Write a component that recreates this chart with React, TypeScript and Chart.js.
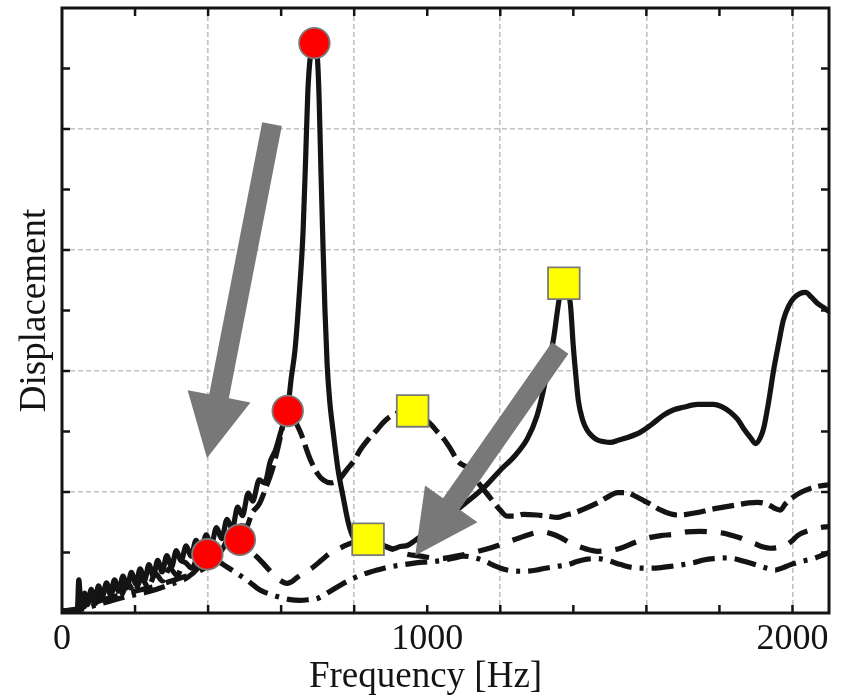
import React, { useEffect, useRef } from 'react';
import { Chart, registerables } from 'chart.js';

Chart.register(...registerables);

const FONT = '"Liberation Serif", "Times New Roman", serif';
const INK = '#141414';

const xTitle = 'Frequency [Hz]';
const yTitle = 'Displacement';
const xLabelValues = [0, 1000, 2000];
const xGridValues = [400, 800, 1200, 1600, 2000];
const yGridValues = [2, 4, 6, 8];

// Solid line
const solidHz = [0, 30, 42, 46, 52, 62, 70, 80, 90, 100, 110, 122, 132, 144, 155, 167, 178, 190, 202, 214, 226, 238, 250, 262, 274, 287, 300, 313, 326, 340, 353, 367, 380, 395, 408, 423, 437, 452, 466, 481, 494, 510, 522, 540, 555, 570, 585, 597, 607, 618, 628, 638, 650, 660, 667, 673, 680, 690, 699, 704, 709, 714, 720, 726, 733, 742, 756, 770, 784, 797, 815, 838, 860, 885, 905, 926, 947, 967, 990, 1008, 1035, 1063, 1095, 1126, 1160, 1200, 1240, 1274, 1300, 1318, 1335, 1345, 1359, 1366, 1373, 1381, 1392, 1400, 1408, 1414, 1425, 1438, 1452, 1466, 1485, 1501, 1525, 1548, 1584, 1615, 1647, 1675, 1701, 1740, 1784, 1810, 1830, 1850, 1866, 1885, 1899, 1912, 1921, 1935, 1948, 1962, 1975, 1990, 2003, 2020, 2036, 2052, 2068, 2085, 2100];
const solidAmp = [0.03, 0.03, 0.05, 0.55, 0.12, 0.33, 0.14, 0.39, 0.20, 0.45, 0.26, 0.50, 0.31, 0.55, 0.36, 0.61, 0.42, 0.67, 0.48, 0.73, 0.54, 0.80, 0.61, 0.87, 0.68, 0.95, 0.76, 1.03, 0.86, 1.11, 0.94, 1.20, 1.02, 1.29, 1.11, 1.41, 1.23, 1.55, 1.39, 1.75, 1.61, 1.98, 1.85, 2.2, 2.15, 2.5, 2.7, 2.95, 3.15, 3.38, 3.9, 4.35, 5.3, 6.3, 7.5, 8.6, 9.2, 9.4, 9.2, 8.5, 7.3, 6.2, 5.0, 4.1, 3.5, 3.02, 2.36, 1.91, 1.49, 1.26, 1.2, 1.17, 1.12, 1.1, 1.06, 1.1, 1.12, 1.2, 1.3, 1.4, 1.5, 1.62, 1.77, 1.92, 2.1, 2.36, 2.6, 2.88, 3.25, 3.68, 4.2, 4.5, 5.1, 5.35, 5.42, 5.35, 5.1, 4.4, 3.85, 3.5, 3.2, 3.02, 2.92, 2.86, 2.83, 2.82, 2.86, 2.9, 2.99, 3.12, 3.27, 3.36, 3.4, 3.45, 3.45, 3.4, 3.32, 3.2, 3.05, 2.9, 2.8, 2.9, 3.05, 3.5, 4.0, 4.45, 4.84, 5.08, 5.2, 5.28, 5.3, 5.22, 5.12, 5.05, 4.98];

// Long-dash line
const longDashHz = [0, 40, 50, 60, 75, 90, 110, 125, 145, 160, 180, 198, 218, 236, 256, 275, 295, 315, 335, 355, 375, 395, 415, 435, 455, 470, 490, 505, 520, 540, 560, 575, 590, 603, 616, 630, 652, 679, 700, 715, 737, 760, 781, 800, 816, 840, 863, 880, 899, 925, 956, 990, 1010, 1027, 1045, 1063, 1085, 1110, 1140, 1173, 1200, 1219, 1240, 1263, 1300, 1330, 1356, 1380, 1400, 1430, 1466, 1495, 1521, 1545, 1570, 1595, 1611, 1640, 1665, 1685, 1710, 1740, 1775, 1811, 1850, 1880, 1904, 1925, 1940, 1955, 1967, 1980, 2003, 2025, 2049, 2075, 2100];
const longDashAmp = [0.03, 0.04, 0.27, 0.10, 0.30, 0.15, 0.35, 0.20, 0.42, 0.28, 0.49, 0.35, 0.57, 0.43, 0.65, 0.53, 0.74, 0.62, 0.84, 0.74, 0.95, 0.88, 1.07, 1.03, 1.22, 1.2, 1.44, 1.43, 1.65, 1.8, 2.1, 2.35, 2.7, 3.05, 3.33, 3.25, 3.0, 2.55, 2.3, 2.2, 2.15, 2.22, 2.38, 2.52, 2.69, 2.88, 3.03, 3.15, 3.25, 3.32, 3.34, 3.22, 3.12, 3.0, 2.88, 2.72, 2.5, 2.4, 2.15, 1.9, 1.7, 1.6, 1.6, 1.63, 1.62, 1.6, 1.58, 1.62, 1.65, 1.72, 1.82, 1.92, 1.99, 1.99, 1.93, 1.85, 1.8, 1.7, 1.64, 1.62, 1.63, 1.66, 1.71, 1.75, 1.79, 1.82, 1.83, 1.81, 1.77, 1.72, 1.7, 1.8, 1.92, 2.0, 2.06, 2.1, 2.12];

// Medium-dash line
const dashHz = [0, 50, 104, 170, 241, 310, 378, 420, 447, 470, 485, 500, 515, 535, 551, 575, 597, 616, 630, 644, 665, 688, 710, 734, 760, 781, 810, 838, 865, 899, 940, 981, 1036, 1080, 1126, 1175, 1219, 1265, 1300, 1318, 1340, 1364, 1390, 1419, 1445, 1466, 1495, 1529, 1570, 1611, 1640, 1674, 1710, 1748, 1780, 1811, 1835, 1858, 1880, 1899, 1920, 1940, 1960, 1981, 2000, 2014, 2049, 2075, 2100];
const dashAmp = [0.03, 0.08, 0.2, 0.32, 0.42, 0.55, 0.7, 0.85, 0.97, 1.1, 1.2, 1.15, 1.04, 0.92, 0.82, 0.66, 0.54, 0.49, 0.52, 0.59, 0.67, 0.76, 0.87, 0.99, 1.07, 1.13, 1.2, 1.24, 1.16, 1.07, 0.98, 0.94, 0.9, 0.94, 1.0, 1.08, 1.17, 1.27, 1.33, 1.34, 1.31, 1.25, 1.16, 1.09, 1.04, 1.02, 1.03, 1.07, 1.17, 1.25, 1.28, 1.3, 1.34, 1.35, 1.34, 1.32, 1.28, 1.24, 1.18, 1.14, 1.09, 1.07, 1.08, 1.12, 1.2, 1.28, 1.37, 1.41, 1.43];

// Dash-dot line
const dashDotHz = [0, 50, 104, 170, 241, 300, 342, 378, 397, 420, 452, 480, 507, 542, 570, 597, 625, 652, 675, 699, 715, 740, 762, 790, 816, 840, 863, 895, 926, 960, 989, 1044, 1075, 1099, 1125, 1153, 1185, 1219, 1268, 1300, 1323, 1355, 1386, 1410, 1438, 1465, 1493, 1530, 1564, 1611, 1640, 1666, 1700, 1729, 1760, 1784, 1810, 1838, 1870, 1904, 1930, 1953, 1975, 1995, 2030, 2058, 2080, 2100];
const dashDotAmp = [0.03, 0.06, 0.15, 0.26, 0.36, 0.48, 0.58, 0.78, 0.95, 0.88, 0.76, 0.65, 0.54, 0.38, 0.31, 0.26, 0.22, 0.21, 0.22, 0.24, 0.29, 0.38, 0.46, 0.55, 0.62, 0.67, 0.71, 0.76, 0.79, 0.82, 0.84, 0.87, 0.91, 0.94, 0.92, 0.87, 0.78, 0.71, 0.69, 0.71, 0.74, 0.77, 0.8, 0.85, 0.89, 0.9, 0.87, 0.8, 0.75, 0.74, 0.75, 0.77, 0.8, 0.83, 0.88, 0.9, 0.91, 0.9, 0.85, 0.79, 0.74, 0.71, 0.75, 0.8, 0.86, 0.9, 0.95, 1.0];

// Peak markers
const circleHz = [398, 487, 618, 691];
const circleAmp = [0.97, 1.21, 3.34, 9.42];
const squareHz = [838, 960, 1374];
const squareAmp = [1.22, 3.34, 5.45];

// Arrows (tail -> tip)
const arrowTailHz = [575, 1364];
const arrowTailAmp = [8.08, 4.38];
const arrowTipHz = [397, 967];
const arrowTipAmp = [2.56, 0.95];

function pts(xs: number[], ys: number[]) {
  return xs.map((x, i) => ({ x, y: ys[i] }));
}

const decorPlugin = {
  id: 'decor',
  afterDatasetsDraw(chart: any) {
    const { ctx, scales } = chart;
    const sx = scales.x;
    const sy = scales.y;
    ctx.save();
    ctx.fillStyle = '#787878';
    const shaft = 10;
    const headHalf = 32;
    const headLen = 63;
    for (let i = 0; i < arrowTailHz.length; i++) {
      const x0 = sx.getPixelForValue(arrowTailHz[i]);
      const y0 = sy.getPixelForValue(arrowTailAmp[i]);
      const x1 = sx.getPixelForValue(arrowTipHz[i]);
      const y1 = sy.getPixelForValue(arrowTipAmp[i]);
      const dx = x1 - x0;
      const dy = y1 - y0;
      const len = Math.hypot(dx, dy);
      const ux = dx / len;
      const uy = dy / len;
      const px = -uy;
      const py = ux;
      const bx = x1 - ux * headLen;
      const by = y1 - uy * headLen;
      ctx.beginPath();
      ctx.moveTo(x0 + px * shaft, y0 + py * shaft);
      ctx.lineTo(bx + px * shaft, by + py * shaft);
      ctx.lineTo(bx + px * headHalf, by + py * headHalf);
      ctx.lineTo(x1, y1);
      ctx.lineTo(bx - px * headHalf, by - py * headHalf);
      ctx.lineTo(bx - px * shaft, by - py * shaft);
      ctx.lineTo(x0 - px * shaft, y0 - py * shaft);
      ctx.closePath();
      ctx.fill();
    }
    ctx.restore();
  },
  afterDraw(chart: any) {
    const { ctx, chartArea: a, scales } = chart;
    const sx = scales.x;
    const sy = scales.y;
    ctx.save();
    ctx.strokeStyle = INK;
    ctx.lineWidth = 2.5;
    ctx.beginPath();
    sx.ticks.forEach((t: any) => {
      if (t.value > 0 && t.value < sx.max && t.value % 200 === 0) {
        const p = sx.getPixelForValue(t.value);
        ctx.moveTo(p, a.bottom);
        ctx.lineTo(p, a.bottom - 8);
        ctx.moveTo(p, a.top);
        ctx.lineTo(p, a.top + 8);
      }
    });
    sy.ticks.forEach((t: any) => {
      if (t.value > 0 && t.value < sy.max) {
        const p = sy.getPixelForValue(t.value);
        ctx.moveTo(a.left, p);
        ctx.lineTo(a.left + 8, p);
        ctx.moveTo(a.right, p);
        ctx.lineTo(a.right - 8, p);
      }
    });
    ctx.stroke();
    ctx.lineWidth = 3;
    ctx.strokeRect(a.left, a.top, a.right - a.left, a.bottom - a.top);
    ctx.fillStyle = INK;
    ctx.font = `37px ${FONT}`;
    ctx.textAlign = 'center';
    ctx.textBaseline = 'alphabetic';
    ctx.fillText(xTitle, a.left + 0.474 * (a.right - a.left), 687);
    ctx.restore();
  },
};

export default function App() {
  const ref = useRef<HTMLCanvasElement | null>(null);

  useEffect(() => {
    if (!ref.current) return;
    const lineBase = {
      borderColor: INK,
      borderWidth: 5.2,
      pointRadius: 0,
      fill: false,
      cubicInterpolationMode: 'monotone' as const,
      borderCapStyle: 'butt' as const,
      borderJoinStyle: 'round' as const,
      order: 2,
    };
    const chart = new Chart(ref.current, {
      type: 'line',
      data: {
        datasets: [
          {
            label: 'peaks-1',
            data: pts(circleHz, circleAmp),
            showLine: false,
            pointStyle: 'circle',
            pointRadius: 15.3,
            pointBackgroundColor: '#ff0000',
            pointBorderColor: '#7a7a7a',
            pointBorderWidth: 1.8,
            order: 0,
          } as any,
          {
            label: 'peaks-2',
            data: pts(squareHz, squareAmp),
            showLine: false,
            pointStyle: 'rect',
            pointRadius: 22.4,
            pointBackgroundColor: '#ffff00',
            pointBorderColor: '#7a7a7a',
            pointBorderWidth: 1.8,
            order: 0,
          } as any,
          { ...lineBase, label: 'solid', data: pts(solidHz, solidAmp) },
          { ...lineBase, label: 'long dash', data: pts(longDashHz, longDashAmp), borderDash: [22, 7] },
          { ...lineBase, label: 'dash', data: pts(dashHz, dashAmp), borderDash: [22, 14] },
          { ...lineBase, label: 'dash-dot', data: pts(dashDotHz, dashDotAmp), borderDash: [22, 8, 4, 8] },
        ],
      },
      options: {
        responsive: false,
        animation: false,
        events: [],
        layout: { autoPadding: false, padding: { top: 8, right: 15, left: 0, bottom: 0 } },
        plugins: { legend: { display: false }, tooltip: { enabled: false } },
        scales: {
          x: {
            type: 'linear',
            min: 0,
            max: 2100,
            afterFit: (s: any) => {
              s.height = 86;
            },
            border: { display: false, dash: [5, 3] },
            grid: {
              drawTicks: false,
              lineWidth: 1.6,
              color: (c: any) =>
                c.tick && xGridValues.includes(c.tick.value) ? '#c2c2c2' : 'rgba(0,0,0,0)',
            },
            ticks: {
              stepSize: 200,
              includeBounds: false,
              autoSkip: false,
              maxRotation: 0,
              padding: 5,
              color: INK,
              font: { family: FONT, size: 36 },
              callback: (v: any) => (xLabelValues.includes(Number(v)) ? String(v) : ''),
            },
          },
          y: {
            type: 'linear',
            min: 0,
            max: 10,
            afterFit: (s: any) => {
              s.width = 62;
            },
            border: { display: false, dash: [5, 3] },
            grid: {
              drawTicks: false,
              lineWidth: 1.6,
              color: (c: any) =>
                c.tick && yGridValues.includes(c.tick.value) ? '#c2c2c2' : 'rgba(0,0,0,0)',
            },
            ticks: { stepSize: 1, display: false },
            title: {
              display: true,
              text: yTitle,
              color: INK,
              font: { family: FONT, size: 37 },
              padding: { top: 13, bottom: 0 },
            },
          },
        },
      },
      plugins: [decorPlugin],
    });
    return () => chart.destroy();
  }, []);

  return (
    <div style={{ position: 'absolute', left: 0, top: 0, width: 844, height: 699, background: '#fff' }}>
      <canvas ref={ref} width={844} height={699} style={{ display: 'block' }} />
    </div>
  );
}
